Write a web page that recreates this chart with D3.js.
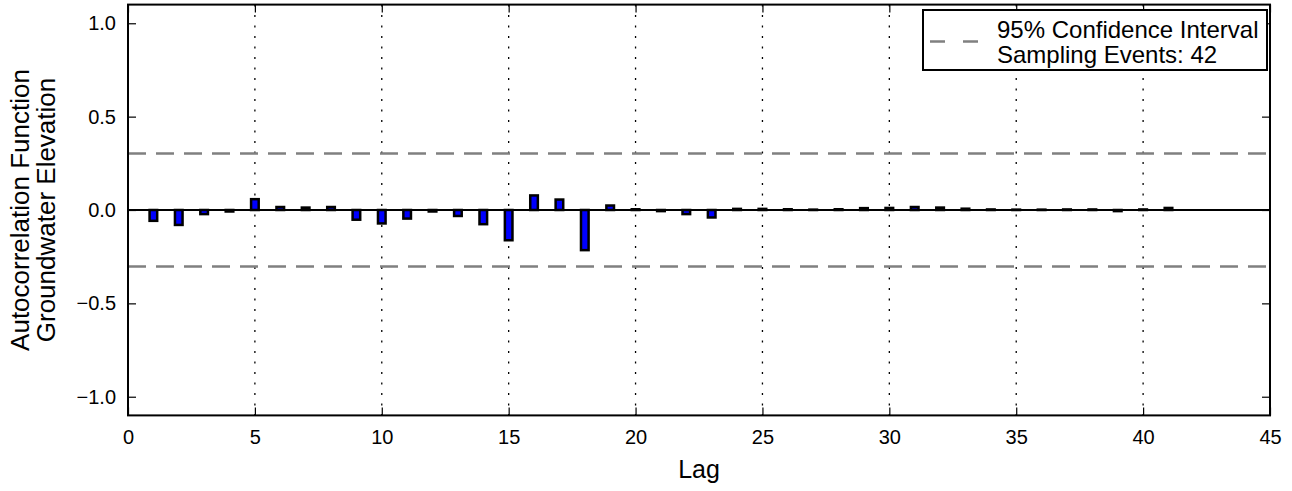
<!DOCTYPE html>
<html>
<head>
<meta charset="utf-8">
<script src="https://cdn.jsdelivr.net/npm/d3@7"></script>
<style>
  html, body { margin: 0; padding: 0; background: #fff; }
  svg { display: block; font-family: "Liberation Sans", Arial, Helvetica, sans-serif; }
</style>
</head>
<body>
<svg id="chart" width="1292" height="491"></svg>
<script>
// ---- data ----
const lags = d3.range(1, 42);
const acfValues = [
  -0.058, -0.080, -0.022, -0.008, 0.058, 0.016, 0.013, 0.016, -0.052, -0.072,
  -0.046, -0.008, -0.032, -0.076, -0.162, 0.078, 0.056, -0.215, 0.024, 0.004,
  -0.006, -0.022, -0.040, 0.006, 0.006, 0.004, 0.002, 0.004, 0.010, 0.011,
  0.016, 0.013, 0.007, 0.003, 0.002, 0.002, 0.003, 0.003, -0.006, 0.003,
  0.011
];
const confidenceBound = [0.302, -0.302];
const xTicks = [0, 5, 10, 15, 20, 25, 30, 35, 40, 45];
const yTicks = [-1.0, -0.5, 0.0, 0.5, 1.0];
const gridTicks = [5, 10, 15, 20, 25, 30, 35, 40];
const legendLabels = ["95% Confidence Interval", "Sampling Events: 42"];
const xLabel = "Lag";
const yLabelLines = ["Autocorrelation Function", "Groundwater Elevation"];

// ---- layout ----
const svg = d3.select("#chart");
const L = 128, R = 1270, T = 4.6, B = 415.4;
const x = d3.scaleLinear().domain([0, 45]).range([L, R]);
const y = d3.scaleLinear().domain([-1.1, 1.1]).range([B, T]);
const barW = 0.3;
const tickLen = 8;

// gridlines (vertical, dotted)
svg.append("g").selectAll("line").data(gridTicks).join("line")
  .attr("x1", d => x(d)).attr("x2", d => x(d))
  .attr("y1", T).attr("y2", B)
  .attr("stroke", "#000").attr("stroke-width", 1.3)
  .attr("stroke-dasharray", "2,8.5");

// confidence interval lines
svg.append("g").selectAll("line").data(confidenceBound).join("line")
  .attr("x1", L).attr("x2", R)
  .attr("y1", d => y(d)).attr("y2", d => y(d))
  .attr("stroke", "#808080").attr("stroke-width", 2.5)
  .attr("stroke-dasharray", "18,10");

// bars
svg.append("g").selectAll("rect").data(lags).join("rect")
  .attr("x", (d) => x(d - barW / 2))
  .attr("width", x(barW) - x(0))
  .attr("y", (d, i) => y(Math.max(0, acfValues[i])))
  .attr("height", (d, i) => Math.abs(y(acfValues[i]) - y(0)))
  .attr("fill", "#0000ff")
  .attr("stroke", "#000").attr("stroke-width", 2.5);

// zero line
svg.append("line")
  .attr("x1", L).attr("x2", R).attr("y1", y(0)).attr("y2", y(0))
  .attr("stroke", "#000").attr("stroke-width", 2);

// axes (inward ticks, mirrored)
const axB = d3.axisBottom(x).tickValues(xTicks).tickSize(-tickLen).tickPadding(14).tickFormat(d3.format("d"));
const axT = d3.axisTop(x).tickValues(xTicks).tickSize(-tickLen).tickFormat("");
const axLft = d3.axisLeft(y).tickValues(yTicks).tickSize(-tickLen).tickPadding(12).tickFormat(d3.format(".1f"));
const axRt = d3.axisRight(y).tickValues(yTicks).tickSize(-tickLen).tickFormat("");

function style(g) {
  g.select(".domain").remove();
  g.selectAll(".tick line").attr("stroke", "#000").attr("stroke-width", 1.2);
  g.selectAll("text").attr("fill", "#000").style("font-size", "20px");
}
svg.append("g").attr("transform", `translate(0,${B})`).call(axB).call(style);
svg.append("g").attr("transform", `translate(0,${T})`).call(axT).call(style);
svg.append("g").attr("transform", `translate(${L},0)`).call(axLft).call(style);
svg.append("g").attr("transform", `translate(${R},0)`).call(axRt).call(style);

// frame
svg.append("rect").attr("x", L).attr("y", T).attr("width", R - L).attr("height", B - T)
  .attr("fill", "none").attr("stroke", "#000").attr("stroke-width", 2);

// legend
const lg = svg.append("g");
lg.append("rect").attr("x", 923).attr("y", 10).attr("width", 344).attr("height", 60)
  .attr("fill", "#fff").attr("stroke", "#000").attr("stroke-width", 2);
lg.append("line").attr("x1", 930).attr("x2", 978).attr("y1", 41.5).attr("y2", 41.5)
  .attr("stroke", "#808080").attr("stroke-width", 2.5).attr("stroke-dasharray", "15,18");
lg.selectAll("text").data(legendLabels).join("text")
  .attr("x", 997).attr("y", (d, i) => 37.5 + i * 25.5)
  .style("font-size", "24px").attr("fill", "#000")
  .text(d => d);

// axis labels
svg.append("text").attr("x", (L + R) / 2).attr("y", 478)
  .attr("text-anchor", "middle").style("font-size", "25px").text(xLabel);
const yl = svg.append("text")
  .attr("transform", `translate(0,${(T + B) / 2}) rotate(-90)`)
  .attr("text-anchor", "middle").style("font-size", "26px");
yl.selectAll("tspan").data(yLabelLines).join("tspan")
  .attr("x", 0).attr("y", (d, i) => 28.5 + i * 26.5).text(d => d);
</script>
</body>
</html>
